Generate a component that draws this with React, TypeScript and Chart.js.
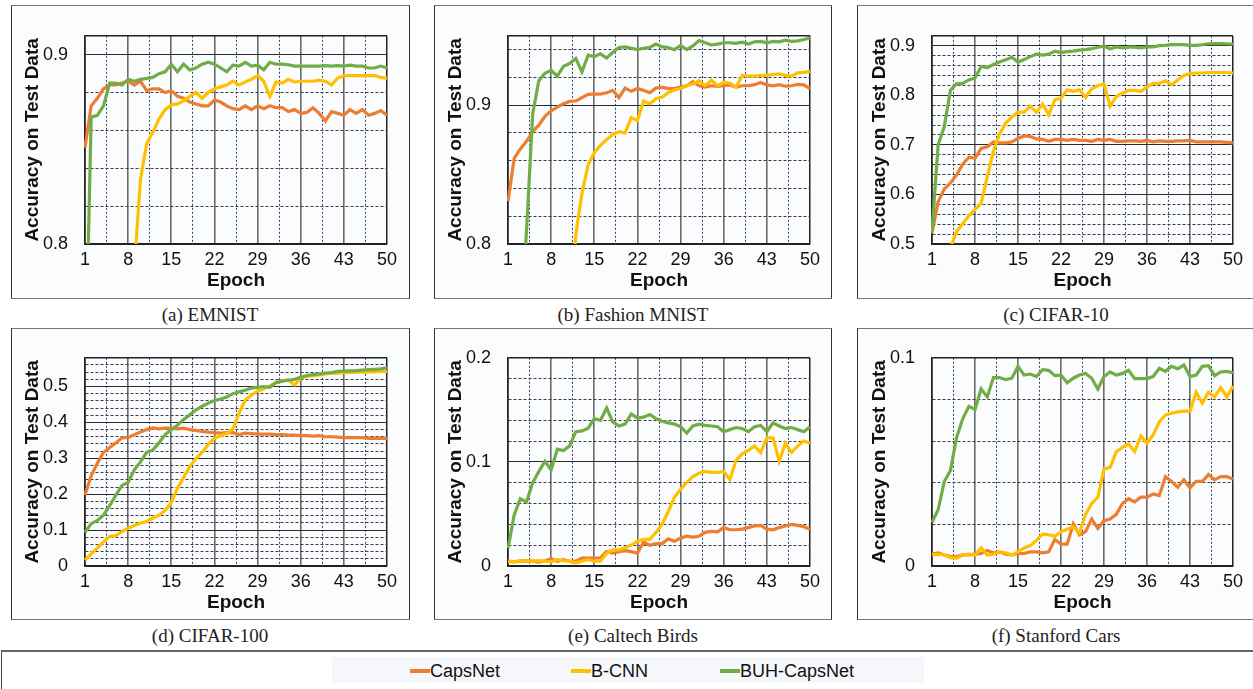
import React, { useEffect, useRef } from 'react';
import { Chart, registerables } from 'chart.js';

Chart.register(...registerables);

// ---------- data ----------
const epochs = [1, 2, 3, 4, 5, 6, 7, 8, 9, 10, 11, 12, 13, 14, 15, 16, 17, 18, 19, 20, 21, 22, 23, 24, 25,
  26, 27, 28, 29, 30, 31, 32, 33, 34, 35, 36, 37, 38, 39, 40, 41, 42, 43, 44, 45, 46, 47, 48, 49, 50];
const xTickLabels = [1, 8, 15, 22, 29, 36, 43, 50];
const xMinorGrid = [4.5, 11.5, 18.5, 25.5, 32.5, 39.5, 46.5];
const seriesNames = ['CapsNet', 'B-CNN', 'BUH-CapsNet'];
const seriesColors = ['#ED7D31', '#FFC000', '#70AD47'];

// (a) EMNIST
const emnistCaps = [0.851, 0.873, 0.877, 0.882, 0.884, 0.884, 0.885, 0.886, 0.884, 0.886,
  0.881, 0.882, 0.882, 0.880, 0.881, 0.878, 0.877, 0.875, 0.874, 0.873,
  0.873, 0.876, 0.875, 0.873, 0.8715, 0.871, 0.873, 0.871, 0.873, 0.8715,
  0.873, 0.872, 0.872, 0.870, 0.871, 0.869, 0.8695, 0.872, 0.869, 0.865,
  0.870, 0.869, 0.868, 0.871, 0.869, 0.871, 0.868, 0.869, 0.8705, 0.868];
const emnistBcnn = [null, null, null, null, null, null, null, null, 0.788, 0.834,
  0.853, 0.859, 0.866, 0.871, 0.8735, 0.874, 0.8756, 0.878, 0.880, 0.877,
  0.880, 0.882, 0.883, 0.884, 0.886, 0.884, 0.8856, 0.887, 0.889, 0.886,
  0.878, 0.8856, 0.885, 0.887, 0.8856, 0.886, 0.886, 0.886, 0.8866, 0.886,
  0.884, 0.8876, 0.889, 0.889, 0.889, 0.889, 0.889, 0.889, 0.888, 0.8876];
const emnistBuh = [0.72, 0.867, 0.868, 0.873, 0.885, 0.885, 0.884, 0.887, 0.886, 0.887,
  0.8875, 0.888, 0.890, 0.891, 0.895, 0.891, 0.895, 0.892, 0.893, 0.895,
  0.896, 0.895, 0.893, 0.891, 0.8945, 0.894, 0.896, 0.894, 0.8945, 0.892,
  0.896, 0.895, 0.895, 0.8947, 0.894, 0.894, 0.894, 0.894, 0.894, 0.8942,
  0.894, 0.8942, 0.894, 0.8945, 0.894, 0.894, 0.893, 0.893, 0.894, 0.893];

// (b) Fashion MNIST
const fashionCaps = [0.8308, 0.8616, 0.8685, 0.874, 0.881, 0.8856, 0.892, 0.896, 0.8986, 0.901,
  0.9027, 0.903, 0.9055, 0.9078, 0.908, 0.908, 0.909, 0.9107, 0.9055, 0.9123,
  0.910, 0.912, 0.9107, 0.909, 0.9123, 0.913, 0.912, 0.912, 0.913, 0.914,
  0.917, 0.914, 0.913, 0.914, 0.9135, 0.914, 0.9146, 0.913, 0.914, 0.914,
  0.9148, 0.9164, 0.9146, 0.914, 0.9148, 0.9137, 0.914, 0.915, 0.9146, 0.912];
const fashionBcnn = [null, null, null, null, null, null, null, null, null, null,
  0.72, 0.807, 0.8365, 0.857, 0.8658, 0.871, 0.8753, 0.8788, 0.881, 0.880,
  0.891, 0.889, 0.903, 0.901, 0.9046, 0.9057, 0.909, 0.911, 0.912, 0.914,
  0.9153, 0.9176, 0.914, 0.918, 0.914, 0.9164, 0.916, 0.913, 0.9215, 0.921,
  0.921, 0.9215, 0.9215, 0.922, 0.9225, 0.9215, 0.921, 0.9233, 0.9237, 0.9244];
const fashionBuh = [null, null, 0.74, 0.809, 0.8936, 0.9176, 0.923, 0.925, 0.921, 0.928,
  0.930, 0.9336, 0.924, 0.936, 0.935, 0.937, 0.934, 0.938, 0.9416, 0.942,
  0.941, 0.940, 0.941, 0.9416, 0.944, 0.942, 0.9416, 0.940, 0.943, 0.940,
  0.9427, 0.9466, 0.945, 0.9434, 0.944, 0.945, 0.945, 0.9445, 0.9454, 0.944,
  0.9457, 0.946, 0.945, 0.946, 0.9457, 0.9468, 0.946, 0.9464, 0.9473, 0.9484];

// (c) CIFAR-10
const cifar10Caps = [0.522, 0.5854, 0.611, 0.623, 0.639, 0.661, 0.675, 0.673, 0.693, 0.696,
  0.706, 0.704, 0.704, 0.706, 0.713, 0.718, 0.717, 0.712, 0.711, 0.707,
  0.711, 0.711, 0.709, 0.711, 0.709, 0.709, 0.707, 0.711, 0.709, 0.711,
  0.707, 0.707, 0.708, 0.708, 0.707, 0.709, 0.706, 0.708, 0.707, 0.707,
  0.708, 0.708, 0.709, 0.706, 0.706, 0.706, 0.706, 0.706, 0.705, 0.704];
const cifar10Bcnn = [null, null, null, 0.492, 0.525, 0.541, 0.557, 0.570, 0.582, 0.636,
  0.687, 0.7215, 0.744, 0.756, 0.766, 0.766, 0.778, 0.766, 0.782, 0.761,
  0.791, 0.794, 0.811, 0.808, 0.811, 0.7956, 0.813, 0.8196, 0.823, 0.778,
  0.7975, 0.804, 0.810, 0.810, 0.808, 0.8165, 0.824, 0.824, 0.829, 0.821,
  0.831, 0.840, 0.8437, 0.845, 0.845, 0.846, 0.846, 0.846, 0.846, 0.845];
const cifar10Buh = [0.525, 0.700, 0.737, 0.810, 0.823, 0.824, 0.831, 0.835, 0.858, 0.856,
  0.862, 0.867, 0.8715, 0.8766, 0.867, 0.872, 0.878, 0.883, 0.881, 0.883,
  0.889, 0.886, 0.888, 0.889, 0.891, 0.892, 0.894, 0.897, 0.899, 0.894,
  0.8975, 0.8956, 0.897, 0.897, 0.8956, 0.8975, 0.8975, 0.900, 0.9006, 0.902,
  0.902, 0.902, 0.9006, 0.9006, 0.902, 0.904, 0.9044, 0.9044, 0.904, 0.903];

// (d) CIFAR-100
const cifar100Caps = [0.198, 0.251, 0.286, 0.316, 0.330, 0.343, 0.357, 0.358, 0.366, 0.373,
  0.380, 0.385, 0.382, 0.384, 0.384, 0.382, 0.384, 0.380, 0.3776, 0.375,
  0.373, 0.3715, 0.370, 0.3715, 0.3715, 0.366, 0.370, 0.369, 0.3675, 0.3675,
  0.3675, 0.366, 0.366, 0.3645, 0.3645, 0.363, 0.363, 0.362, 0.363, 0.360,
  0.360, 0.359, 0.3575, 0.358, 0.3575, 0.3575, 0.3558, 0.3558, 0.3558, 0.3558];
const cifar100Bcnn = [0.0166, 0.034, 0.050, 0.0673, 0.082, 0.085, 0.096, 0.105, 0.113, 0.120,
  0.124, 0.133, 0.1416, 0.155, 0.1766, 0.216, 0.2465, 0.277, 0.299, 0.3164,
  0.338, 0.356, 0.3628, 0.369, 0.382, 0.4257, 0.4624, 0.476, 0.487, 0.494,
  0.5017, 0.511, 0.5157, 0.519, 0.504, 0.5236, 0.528, 0.5306, 0.532, 0.535,
  0.5367, 0.5375, 0.5385, 0.539, 0.540, 0.540, 0.5405, 0.541, 0.5428, 0.541];
const cifar100Buh = [0.0935, 0.118, 0.127, 0.1416, 0.168, 0.197, 0.2246, 0.233, 0.268, 0.290,
  0.3165, 0.323, 0.343, 0.366, 0.380, 0.392, 0.408, 0.421, 0.4344, 0.445,
  0.4537, 0.4607, 0.465, 0.471, 0.480, 0.485, 0.4895, 0.4956, 0.498, 0.500,
  0.498, 0.511, 0.515, 0.5175, 0.520, 0.526, 0.5306, 0.533, 0.535, 0.5376,
  0.539, 0.542, 0.543, 0.5437, 0.5445, 0.546, 0.547, 0.548, 0.549, 0.5524];

// (e) Caltech Birds
const birdsCaps = [0.0046, 0.004, 0.0046, 0.005, 0.0046, 0.0037, 0.005, 0.007, 0.0046, 0.006,
  0.0046, 0.0046, 0.0077, 0.0077, 0.0077, 0.0077, 0.0138, 0.0123, 0.0138, 0.0148,
  0.0138, 0.0123, 0.023, 0.020, 0.0215, 0.0215, 0.026, 0.0237, 0.0268, 0.0286,
  0.0277, 0.0286, 0.0323, 0.0332, 0.0329, 0.0369, 0.0348, 0.0348, 0.0354, 0.0369,
  0.0385, 0.039, 0.0354, 0.0348, 0.0369, 0.0385, 0.040, 0.039, 0.0378, 0.0354];
const birdsBcnn = [0.0046, 0.004, 0.0052, 0.0052, 0.0046, 0.0052, 0.0046, 0.004, 0.0062, 0.0052,
  0.0046, 0.003, 0.0046, 0.0062, 0.0046, 0.0046, 0.0123, 0.0154, 0.0154, 0.0175,
  0.020, 0.0237, 0.0255, 0.0255, 0.0323, 0.040, 0.0523, 0.066, 0.0738, 0.080,
  0.086, 0.0892, 0.0908, 0.090, 0.090, 0.0908, 0.083, 0.1015, 0.1077, 0.111,
  0.1154, 0.109, 0.123, 0.123, 0.1006, 0.118, 0.109, 0.1154, 0.120, 0.118];
const birdsBuh = [0.017, 0.049, 0.0646, 0.0615, 0.080, 0.0908, 0.1006, 0.0923, 0.1123, 0.111,
  0.1154, 0.129, 0.1298, 0.1323, 0.1415, 0.140, 0.1517, 0.1385, 0.1345, 0.1363,
  0.146, 0.142, 0.143, 0.1455, 0.1415, 0.139, 0.1375, 0.1363, 0.1338, 0.1277,
  0.1345, 0.1363, 0.135, 0.1345, 0.1338, 0.129, 0.131, 0.133, 0.132, 0.129,
  0.1338, 0.135, 0.129, 0.1375, 0.1345, 0.132, 0.133, 0.131, 0.129, 0.1338];

// (f) Stanford Cars
const carsCaps = [0.0057, 0.0063, 0.0053, 0.0045, 0.0045, 0.0053, 0.0053, 0.0057, 0.006, 0.0075,
  0.0063, 0.0068, 0.0057, 0.0053, 0.006, 0.006, 0.0068, 0.0068, 0.0063, 0.0068,
  0.0128, 0.0105, 0.0105, 0.0203, 0.015, 0.0165, 0.0226, 0.018, 0.0218, 0.0226,
  0.0248, 0.030, 0.0323, 0.0308, 0.0331, 0.0331, 0.0346, 0.0338, 0.0429, 0.0406,
  0.0379, 0.0414, 0.0376, 0.0406, 0.0406, 0.0439, 0.0414, 0.0429, 0.0429, 0.0418];
const carsBcnn = [0.0053, 0.0057, 0.0053, 0.004, 0.0038, 0.0053, 0.0057, 0.0053, 0.0087, 0.0053,
  0.0057, 0.0068, 0.0063, 0.0053, 0.0068, 0.0087, 0.0098, 0.0123, 0.0153, 0.015,
  0.0143, 0.0165, 0.0177, 0.0188, 0.0158, 0.0248, 0.030, 0.0331, 0.0466, 0.0474,
  0.0549, 0.057, 0.0586, 0.0549, 0.0624, 0.059, 0.063, 0.0692, 0.0725, 0.0734,
  0.074, 0.0744, 0.0744, 0.0835, 0.0782, 0.0835, 0.0812, 0.0857, 0.0812, 0.0865];
const carsBuh = [0.021, 0.027, 0.0406, 0.0459, 0.0617, 0.0707, 0.0767, 0.0752, 0.085, 0.0812,
  0.0905, 0.0905, 0.0895, 0.0902, 0.0959, 0.0917, 0.0922, 0.091, 0.0943, 0.094,
  0.0914, 0.0917, 0.088, 0.0902, 0.0917, 0.0925, 0.0902, 0.085, 0.091, 0.0932,
  0.0917, 0.0925, 0.094, 0.090, 0.090, 0.090, 0.091, 0.095, 0.0935, 0.0959,
  0.0947, 0.0965, 0.091, 0.0917, 0.0959, 0.0962, 0.0914, 0.0932, 0.0935, 0.0928];

// y-axis tick labels and minor grid values per panel
const yLabelsA = [0.8, 0.9];
const yMinorA = [0.82, 0.84, 0.86, 0.88];
const yLabelsB = [0.8, 0.9];
const yMinorB = [0.82, 0.84, 0.86, 0.88, 0.92, 0.94];
const yLabelsC = [0.5, 0.6, 0.7, 0.8, 0.9];
const yMinorC = [0.52, 0.54, 0.56, 0.58, 0.62, 0.64, 0.66, 0.68, 0.72, 0.74, 0.76, 0.78, 0.82, 0.84, 0.86, 0.88];
const yLabelsD = [0, 0.1, 0.2, 0.3, 0.4, 0.5];
const yMinorD = [0.02, 0.04, 0.06, 0.08, 0.12, 0.14, 0.16, 0.18, 0.22, 0.24, 0.26, 0.28, 0.32, 0.34, 0.36, 0.38,
  0.42, 0.44, 0.46, 0.48, 0.52, 0.54, 0.56];
const yLabelsE = [0, 0.1, 0.2];
const yMinorE = [0.02, 0.04, 0.06, 0.08, 0.12, 0.14, 0.16, 0.18];
const yLabelsF = [0, 0.1];
const yMinorF = [0.02, 0.04, 0.06, 0.08];

// ---------- layout ----------
const Y_AXIS_W = 75;
const PAD_T = 15;
const PAD_R = 16;
const X_AXIS_H = 56;

type PanelDef = {
  caption: string;
  series: (number | null)[][];
  yMin: number;
  yMax: number;
  yLabels: number[];
  yMinor: number[];
  plot: { l: number; t: number; w: number; h: number };
  box: { l: number; t: number; r: number; b: number };
  capX: number;
  capY: number;
};

const panels: PanelDef[] = [
  { caption: '(a) EMNIST', series: [emnistCaps, emnistBcnn, emnistBuh], yMin: 0.8, yMax: 0.91,
    yLabels: yLabelsA, yMinor: yMinorA, plot: { l: 85, t: 23, w: 302, h: 221 },
    box: { l: 11, t: 5, r: 410, b: 299 }, capX: 210, capY: 315 },
  { caption: '(b) Fashion MNIST', series: [fashionCaps, fashionBcnn, fashionBuh], yMin: 0.8, yMax: 0.95,
    yLabels: yLabelsB, yMinor: yMinorB, plot: { l: 508, t: 23, w: 302, h: 221 },
    box: { l: 434, t: 5, r: 832, b: 299 }, capX: 633, capY: 315 },
  { caption: '(c) CIFAR-10', series: [cifar10Caps, cifar10Bcnn, cifar10Buh], yMin: 0.5, yMax: 0.92,
    yLabels: yLabelsC, yMinor: yMinorC, plot: { l: 932, t: 23, w: 301, h: 221 },
    box: { l: 857, t: 5, r: 1262, b: 299 }, capX: 1056, capY: 315 },
  { caption: '(d) CIFAR-100', series: [cifar100Caps, cifar100Bcnn, cifar100Buh], yMin: 0, yMax: 0.58,
    yLabels: yLabelsD, yMinor: yMinorD, plot: { l: 85, t: 345, w: 302, h: 221 },
    box: { l: 11, t: 328, r: 410, b: 620 }, capX: 210, capY: 636 },
  { caption: '(e) Caltech Birds', series: [birdsCaps, birdsBcnn, birdsBuh], yMin: 0, yMax: 0.2,
    yLabels: yLabelsE, yMinor: yMinorE, plot: { l: 508, t: 345, w: 302, h: 221 },
    box: { l: 434, t: 328, r: 832, b: 620 }, capX: 633, capY: 636 },
  { caption: '(f) Stanford Cars', series: [carsCaps, carsBcnn, carsBuh], yMin: 0, yMax: 0.1,
    yLabels: yLabelsF, yMinor: yMinorF, plot: { l: 932, t: 345, w: 301, h: 221 },
    box: { l: 857, t: 328, r: 1262, b: 620 }, capX: 1056, capY: 636 },
];

const near = (a: number, b: number) => Math.abs(a - b) < 1e-6;
const TICK_FONT = { family: '"Liberation Sans", Arial, sans-serif', size: 18 };
const TITLE_FONT = { family: '"Liberation Sans", Arial, sans-serif', size: 19, weight: 'bold' as const };

function Panel({ def }: { def: PanelDef }) {
  const ref = useRef<HTMLCanvasElement | null>(null);
  const cw = Y_AXIS_W + def.plot.w + PAD_R;
  const ch = PAD_T + def.plot.h + X_AXIS_H;

  useEffect(() => {
    if (!ref.current) return;
    const yTickVals = Array.from(new Set([def.yMin, ...def.yMinor, ...def.yLabels, def.yMax])).sort((a, b) => a - b);
    const xTickVals = [...xTickLabels, ...xMinorGrid].sort((a, b) => a - b);
    const order = [2, 1, 0];
    const chart = new Chart(ref.current, {
      type: 'line',
      data: {
        datasets: def.series.map((arr, i) => ({
          label: seriesNames[i],
          data: epochs.map((e, k) => ({ x: e, y: arr[k] })),
          borderColor: seriesColors[i],
          backgroundColor: seriesColors[i],
          borderWidth: 3.2,
          pointRadius: 0,
          tension: 0,
          spanGaps: false,
          order: order[i],
          clip: { left: 1, top: 2, right: 2, bottom: 0 } as any,
        })),
      },
      options: {
        animation: false,
        responsive: false,
        maintainAspectRatio: false,
        devicePixelRatio: 1,
        layout: { padding: { top: PAD_T, right: PAD_R, left: 0, bottom: 0 } },
        plugins: { legend: { display: false }, tooltip: { enabled: false }, title: { display: false } },
        scales: {
          x: {
            type: 'linear',
            min: 1,
            max: 50,
            afterBuildTicks: (s: any) => { s.ticks = xTickVals.map((v) => ({ value: v })); },
            afterFit: (s: any) => { s.height = X_AXIS_H; },
            ticks: {
              autoSkip: false,
              maxRotation: 0,
              minRotation: 0,
              padding: 5,
              color: '#111',
              font: TICK_FONT,
              callback: (v: any) => (xTickLabels.includes(Number(v)) ? String(v) : ''),
            },
            grid: {
              drawTicks: false,
              color: (c: any) => {
                const v = c.tick ? c.tick.value : 0;
                if (v === 50 || v === 1) return '#222';
                return xTickLabels.includes(v) ? '#6a6a6a' : '#34445a';
              },
              lineWidth: (c: any) => {
                const v = c.tick ? c.tick.value : 0;
                if (v === 50) return 1.5;
                return xTickLabels.includes(v) ? 1.6 : 1;
              },
            },
            border: {
              display: true,
              color: '#222',
              width: 1.5,
              dash: (c: any) => {
                const v = c.tick ? c.tick.value : 1;
                return xTickLabels.includes(v) ? [] : [2, 2];
              },
            },
            title: { display: true, text: 'Epoch', color: '#111', font: TITLE_FONT, padding: { top: 0, bottom: 8 } },
          },
          y: {
            type: 'linear',
            min: def.yMin,
            max: def.yMax,
            afterBuildTicks: (s: any) => { s.ticks = yTickVals.map((v) => ({ value: v })); },
            afterFit: (s: any) => { s.width = Y_AXIS_W; },
            ticks: {
              autoSkip: false,
              padding: 17,
              color: '#111',
              font: TICK_FONT,
              callback: (v: any) => {
                const n = Number(v);
                return def.yLabels.some((l) => near(l, n)) ? (n === 0 ? '0' : String(n)) : '';
              },
            },
            grid: {
              drawTicks: false,
              color: (c: any) => {
                const v = c.tick ? c.tick.value : def.yMin;
                if (near(v, def.yMax) || near(v, def.yMin)) return '#222';
                return def.yLabels.some((l) => near(l, v)) ? '#2a2a2a' : '#3c3c48';
              },
              lineWidth: (c: any) => {
                const v = c.tick ? c.tick.value : def.yMin;
                return near(v, def.yMax) ? 1.5 : 1;
              },
            },
            border: {
              display: true,
              color: '#222',
              width: 1.5,
              dash: (c: any) => {
                const v = c.tick ? c.tick.value : def.yMin;
                if (near(v, def.yMax) || near(v, def.yMin)) return [];
                return def.yLabels.some((l) => near(l, v)) ? [] : [3, 2];
              },
            },
            title: {
              display: true,
              text: 'Accuracy on Test Data',
              color: '#111',
              font: TITLE_FONT,
              padding: { top: 11, bottom: 0 },
            },
          },
        },
      } as any,
    });
    return () => chart.destroy();
  }, [def]);

  return (
    <canvas
      ref={ref}
      width={cw}
      height={ch}
      style={{
        position: 'absolute',
        left: def.plot.l - Y_AXIS_W,
        top: def.plot.t - PAD_T,
        width: cw,
        height: ch,
      }}
    />
  );
}

export default function App() {
  return (
    <div
      style={{
        position: 'absolute',
        left: 0,
        top: 0,
        width: 1253,
        height: 689,
        overflow: 'hidden',
        background: '#ffffff',
      }}
    >
      {panels.map((p, i) => (
        <div
          key={'box' + i}
          style={{
            position: 'absolute',
            left: p.box.l,
            top: p.box.t,
            width: p.box.r - p.box.l,
            height: p.box.b - p.box.t,
            boxSizing: 'border-box',
            borderLeft: '1.5px solid #333',
            borderRight: '1.5px solid #333',
            borderTop: '1.5px solid #777',
            borderBottom: '1.5px solid #777',
            background: '#fbfcfe',
          }}
        />
      ))}
      {panels.map((p, i) => (
        <Panel key={'panel' + i} def={p} />
      ))}
      {panels.map((p, i) => (
        <div
          key={'cap' + i}
          style={{
            position: 'absolute',
            left: p.capX - 150,
            width: 300,
            top: p.capY - 12,
            height: 24,
            lineHeight: '24px',
            textAlign: 'center',
            fontFamily: '"Liberation Serif", "Times New Roman", serif',
            fontSize: 19,
            color: '#222',
          }}
        >
          {p.caption}
        </div>
      ))}
      <div
        style={{
          position: 'absolute',
          left: 1,
          top: 650,
          width: 1262,
          height: 50,
          boxSizing: 'border-box',
          borderTop: '2px solid #666',
          borderLeft: '1.5px solid #444',
        }}
      />
      <div
        style={{
          position: 'absolute',
          left: 332,
          top: 657,
          width: 592,
          height: 26,
          background: '#f5f7fa',
        }}
      />
      {seriesNames.map((name, i) => {
        const lefts = [410, 571, 720];
        return (
          <div
            key={'leg' + i}
            style={{
              position: 'absolute',
              left: lefts[i],
              top: 660,
              height: 22,
              display: 'flex',
              alignItems: 'center',
              fontFamily: '"Liberation Sans", Arial, sans-serif',
              fontSize: 18,
              color: '#111',
              whiteSpace: 'nowrap',
            }}
          >
            <span style={{ display: 'inline-block', width: 20, height: 4, background: seriesColors[i], marginRight: 0 }} />
            <span>{name}</span>
          </div>
        );
      })}
    </div>
  );
}
